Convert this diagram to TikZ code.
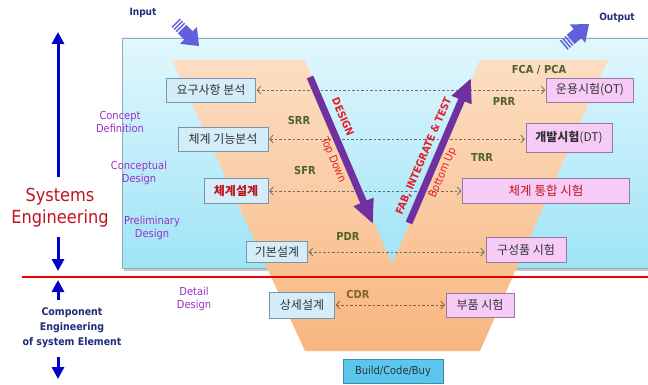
\documentclass[tikz,border=0pt]{standalone}
\usepackage{fontspec}
\setmainfont{DejaVu Sans Condensed}
\newfontfamily\krfont{Noto Sans CJK KR}
\usetikzlibrary{arrows.meta}
\definecolor{bgblueT}{RGB}{226,247,253}
\definecolor{bgblueB}{RGB}{158,228,246}
\definecolor{orT}{RGB}{252,222,194}
\definecolor{orB}{RGB}{248,182,128}
\definecolor{lbfill}{RGB}{212,237,248}
\definecolor{lbdraw}{RGB}{120,150,170}
\definecolor{pkfill}{RGB}{246,204,246}
\definecolor{pkdraw}{RGB}{150,120,160}
\definecolor{vpurple}{RGB}{112,48,160}
\definecolor{txred}{RGB}{228,30,40}
\definecolor{dkred}{RGB}{192,20,30}
\definecolor{olv}{RGB}{79,98,40}
\definecolor{brn}{RGB}{130,100,40}
\definecolor{phs}{RGB}{150,50,200}
\definecolor{navy}{RGB}{31,45,122}
\definecolor{arrblue}{RGB}{0,0,200}
\definecolor{iofill}{RGB}{96,96,220}
\definecolor{dgray}{RGB}{110,110,110}
\definecolor{bcb}{RGB}{91,198,238}
\begin{document}
\begin{tikzpicture}[x=1pt,y=-1pt,
  lbox/.style={draw=lbdraw, fill=lbfill, inner sep=0pt, text=black!80, font=\krfont\fontsize{12}{13}\selectfont},
  rbox/.style={draw=pkdraw, fill=pkfill, inner sep=0pt, text=black!80, font=\krfont\fontsize{12}{13}\selectfont},
  dline/.style={draw=dgray, line width=0.8pt, dash pattern=on 2.5pt off 2pt, {Straight Barb[length=3.5pt,width=8pt]}-{Straight Barb[length=3.5pt,width=8pt]}, shorten <=1pt, shorten >=1pt},
  review/.style={text=olv, font=\bfseries\fontsize{11}{12}\selectfont},
  phase/.style={text=phs, align=center, font=\fontsize{11}{12.5}\selectfont},
  bigarrow/.style={draw=vpurple, line width=7pt, -{Triangle[length=24pt,width=20pt]}},
  lblue/.style={draw=arrblue, line width=3pt, -{Triangle[length=12pt,width=12pt]}},
]
\useasboundingbox (0,0) rectangle (648,385);
\fill[white] (0,0) rectangle (648,385);
% background panel
\fill[black!22] (124,41) rectangle (648,271);
\path[draw=lbdraw!80, top color=bgblueT, bottom color=bgblueB] (122,38) rectangle (648,268);
% V shape
\path[top color=orT, bottom color=orB] (172,60) -- (305,60) -- (392,264) -- (480,60) -- (608,60) -- (480,351) -- (305,351) -- cycle;
% red separator
\draw[red!90!black, line width=1.6pt] (22,277) -- (648,277);

% left boxes
\node[lbox, minimum width=89pt, minimum height=24pt] (l1) at (211,90) {요구사항 분석};
\node[lbox, minimum width=90pt, minimum height=24pt] (l2) at (223,139) {체계 기능분석};
\node[lbox, minimum width=64pt, minimum height=25pt, text=dkred, font=\krfont\bfseries\fontsize{12}{13}\selectfont] (l3) at (236,191) {체계설계};
\node[lbox, minimum width=61pt, minimum height=21pt] (l4) at (277,252) {기본설계};
\node[lbox, minimum width=65pt, minimum height=26pt] (l5) at (302,305) {상세설계};
% right boxes
\node[rbox, minimum width=87pt, minimum height=24pt] (r1) at (590,90) {운용시험(OT)};
\node[rbox, minimum width=86pt, minimum height=29pt] (r2) at (569,138) {\textbf{개발시험}(DT)};
\node[rbox, minimum width=167pt, minimum height=25pt, text=dkred, font=\krfont\fontsize{12.5}{13}\selectfont] (r3) at (546,191) {체계 통합 시험};
\node[rbox, minimum width=80pt, minimum height=25pt] (r4) at (526,250) {구성품 시험};
\node[rbox, minimum width=68pt, minimum height=24pt] (r5) at (480,305) {부품 시험};
\node[draw=bcb!70!black, fill=bcb, minimum width=100pt, minimum height=24pt, inner sep=0pt, text=black!80, font=\fontsize{11}{12}\selectfont] (bcb) at (393,371) {Build/Code/Buy};

% dashed links
\draw[dline] (l1.east) -- (l1.east -| r1.west);
\draw[dline] (l2.east) -- (l2.east -| r2.west);
\draw[dline] (l3.east) -- (l3.east -| r3.west);
\draw[dline] (l4.east) -- (l4.east -| r4.west);
\draw[dline, draw=brn] (l5.east) -- (l5.east -| r5.west);

% review labels
\node[review] (srr) at (299,120) {SRR};
\node[review] (sfr) at (305,170) {SFR};
\node[review] (pdr) at (348,236) {PDR};
\node[review, text=brn] (cdr) at (358,294) {CDR};
\node[review] (fca) at (539,70) {FCA / PCA};
\node[review] (prr) at (504,101) {PRR};
\node[review] (trr) at (482,157) {TRR};

% phase labels
\node[phase] (ph1) at (120,122) {Concept\\Definition};
\node[phase] (ph2) at (139,173) {Conceptual\\Design};
\node[phase] (ph3) at (152,228) {Preliminary\\Design};
\node[phase] (ph4) at (194,299) {Detail\\Design};

% purple arrows
\coordinate (dA) at (310,77); \coordinate (dB) at (373,224);
\draw[bigarrow] (dA) -- (dB);
\coordinate (fA) at (409,223); \coordinate (fB) at (471,78);
\draw[bigarrow] (fA) -- (fB);
\node[text=txred, font=\bfseries\fontsize{10.5}{11}\selectfont, rotate=-66.8] (dsg) at (343,117) {DESIGN};
\node[text=txred, font=\fontsize{11}{12}\selectfont, rotate=-66.8] (tdn) at (333,160) {Top Down};
\node[text=txred, font=\bfseries\fontsize{10.5}{11}\selectfont, rotate=66.8] (fab) at (424,156) {FAB, INTEGRATE \& TEST};
\node[text=txred, font=\fontsize{11}{12}\selectfont, rotate=66.8] (bup) at (443,173) {Bottom Up};

% input / output arrows
\begin{scope}[shift={(199,46)}, rotate=-45]
  \fill[iofill] (0,0) -- (-15,12) -- (-15,6) -- (-24,6) -- (-24,-6) -- (-15,-6) -- (-15,-12) -- cycle;
  \fill[iofill] (-27,-6) rectangle (-25.5,6);
  \fill[iofill] (-30,-6) rectangle (-28.5,6);
  \fill[iofill] (-33,-6) rectangle (-31.5,6);
\end{scope}
\begin{scope}[shift={(589,24)}, rotate=40]
  \fill[iofill] (0,0) -- (-15,12) -- (-15,6) -- (-24,6) -- (-24,-6) -- (-15,-6) -- (-15,-12) -- cycle;
  \fill[iofill] (-27,-6) rectangle (-25.5,6);
  \fill[iofill] (-30,-6) rectangle (-28.5,6);
  \fill[iofill] (-33,-6) rectangle (-31.5,6);
\end{scope}
\node[text=navy, font=\bfseries\fontsize{10}{11}\selectfont] (inp) at (143,13) {Input};
\node[text=navy, font=\bfseries\fontsize{10}{11}\selectfont] (outp) at (617,18) {Output};

% left axis
\node[text=dkred, align=center, font=\fontsize{18}{22}\selectfont] (se) at (60,208) {Systems\\Engineering};
\coordinate (s1) at (58,177); \coordinate (s2) at (58,32);
\coordinate (s3) at (58,237); \coordinate (s4) at (58,271);
\draw[lblue] (s1) -- (s2);
\draw[lblue] (s3) -- (s4);
\node[text=navy, align=center, font=\bfseries\fontsize{10.5}{15}\selectfont] (ce) at (72,328) {Component\\Engineering\\of system Element};
\coordinate (c1) at (58,300); \coordinate (c2) at (58,280);
\coordinate (c3) at (58,357); \coordinate (c4) at (58,379);
\draw[lblue] (c1) -- (c2);
\draw[lblue] (c3) -- (c4);
\end{tikzpicture}
\end{document}
